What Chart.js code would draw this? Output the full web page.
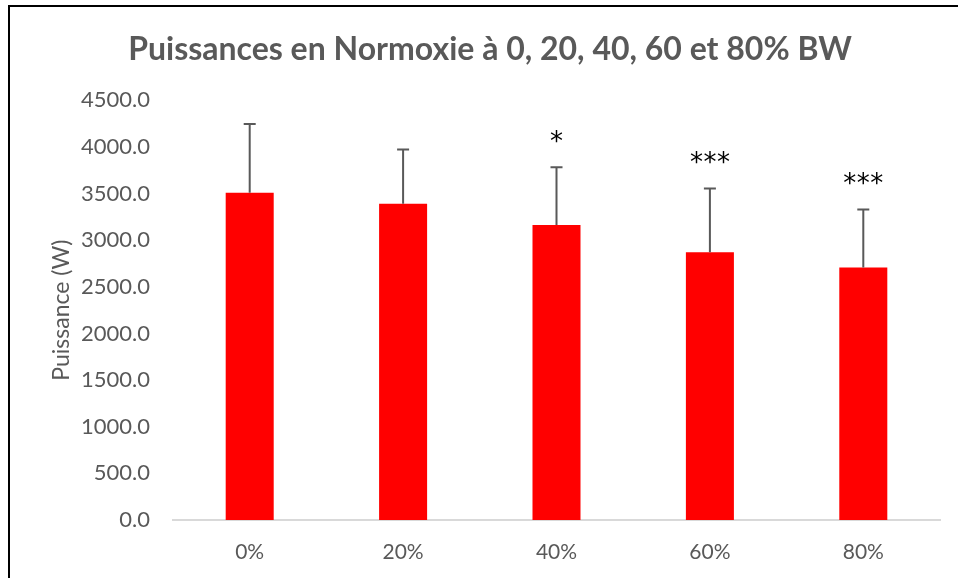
<!DOCTYPE html>
<html>
<head>
<meta charset="utf-8">
<script src="https://cdn.jsdelivr.net/npm/chart.js@4.4.0/dist/chart.umd.min.js"></script>
<style>
  html, body { margin: 0; padding: 0; background: #fff; }
  #wrap { position: relative; width: 958px; height: 578px; }
  #frame { position: absolute; left: 8px; top: 5px; right: 0; bottom: 0; border-left: 2px solid #000; border-top: 2px solid #000; pointer-events: none; }
</style>
</head>
<body>
<div id="wrap">
  <canvas id="barChart" width="958" height="578"></canvas>
  <div id="frame"></div>
</div>
<script>
// data
const categories = ['0%', '20%', '40%', '60%', '80%'];
const powerMeans = [3510, 3391, 3165, 2871, 2707];
const powerSD = [736, 583, 619, 684, 623];
const significance = ['', '', '*', '***', '***'];

const yMin = 0;
const yMax = 4500;
const yStep = 500;

const grey = '#595959';

const errorBarPlugin = {
    id: 'errorBars',
    afterDatasetsDraw(chart) {
        const ctx = chart.ctx;
        const meta = chart.getDatasetMeta(0);
        const yScale = chart.scales.y;
        ctx.save();
        meta.data.forEach((bar, i) => {
            const x = bar.x;
            const yTop = yScale.getPixelForValue(powerMeans[i] + powerSD[i]);
            const yBase = yScale.getPixelForValue(powerMeans[i]);
            ctx.strokeStyle = grey;
            ctx.lineWidth = 2;
            ctx.beginPath();
            ctx.moveTo(x, yBase);
            ctx.lineTo(x, yTop);
            ctx.moveTo(x - 6, yTop);
            ctx.lineTo(x + 6, yTop);
            ctx.stroke();

            // significance stars above the error bar
            const stars = significance[i];
            if (stars) {
                ctx.fillStyle = '#000';
                ctx.font = '26px "DejaVu Sans"';
                ctx.textAlign = 'center';
                ctx.textBaseline = 'middle';
                const gap = 13.5;
                const start = x - gap * (stars.length - 1) / 2;
                for (let k = 0; k < stars.length; k++) {
                    ctx.fillText(stars[k], start + k * gap, yTop - 24);
                }
            }
        });
        ctx.restore();
    }
};

const ctx = document.getElementById('barChart').getContext('2d');
const myBarChart = new Chart(ctx, {
    type: 'bar',
    data: {
        labels: categories,
        datasets: [{
            label: 'Puissance',
            data: powerMeans,
            backgroundColor: '#ff0000',
            borderWidth: 0,
            barPercentage: 0.313,
            categoryPercentage: 1
        }]
    },
    options: {
        responsive: false,
        animation: false,
        devicePixelRatio: 1,
        layout: {
            padding: { left: 40, right: 18, top: 0, bottom: 18 }
        },
        plugins: {
            legend: { display: false },
            tooltip: { enabled: false },
            title: {
                display: true,
                text: 'Puissances en Normoxie à 0, 20, 40, 60 et 80% BW',
                color: grey,
                font: { family: 'Lato', size: 32, weight: 'bold', lineHeight: 1.2 },
                padding: { top: 30, bottom: 32 }
            }
        },
        scales: {
            x: {
                afterFit(scale) { scale.height = 40; },
                grid: { display: false, drawTicks: false },
                border: { display: true, color: '#d9d9d9', width: 2 },
                ticks: {
                    color: grey,
                    font: { family: 'Lato', size: 21 },
                    padding: 20
                }
            },
            y: {
                min: yMin,
                max: yMax,
                afterFit(scale) { scale.width = 133; },
                grid: { display: false, drawTicks: false },
                border: { display: false },
                ticks: {
                    stepSize: yStep,
                    color: grey,
                    font: { family: 'Lato', size: 22 },
                    padding: 23,
                    callback: v => v.toFixed(1)
                },
                title: {
                    display: true,
                    text: 'Puissance (W)',
                    color: grey,
                    font: { family: 'Lato', size: 23 },
                    padding: { top: 8, bottom: 0 }
                }
            }
        }
    },
    plugins: [errorBarPlugin]
});
</script>
</body>
</html>
